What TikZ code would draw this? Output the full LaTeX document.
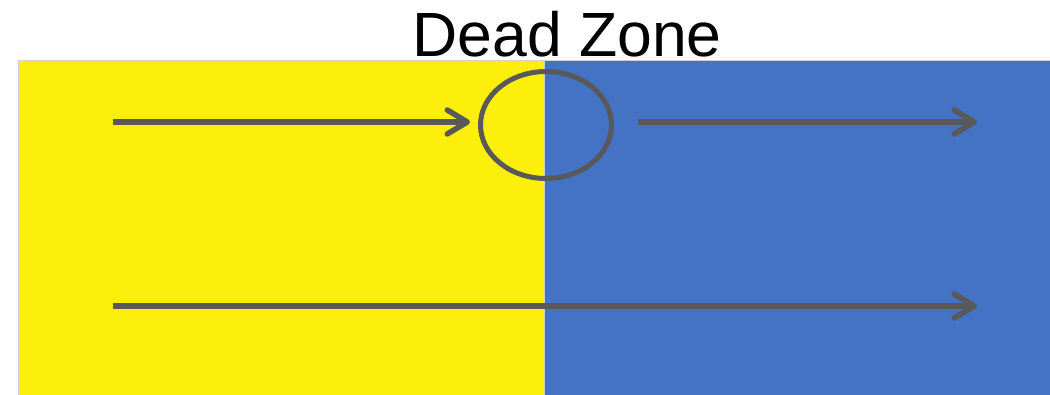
\documentclass[tikz,border=0pt]{standalone}
\usepackage{fontspec}
\setmainfont{Liberation Sans}
\usetikzlibrary{arrows.meta,shapes.geometric}
\definecolor{zoneyellow}{HTML}{FCEF0C}
\definecolor{zoneblue}{HTML}{4472C4}
\definecolor{arrowgray}{HTML}{595959}
\definecolor{framegray}{HTML}{D0D0D0}
\tikzset{
  flow/.style={draw=arrowgray, line width=5.5pt, line cap=butt,
    -{Straight Barb[length=20pt,width=24pt,line cap=round,line join=round]}},
  zone/.style={draw=framegray, line width=1.3pt, inner sep=0pt, anchor=north west},
}
\begin{document}
\begin{tikzpicture}[x=1pt,y=-1pt]
\useasboundingbox (0,0) rectangle (1050,394);
\begin{scope}
\clip (0,0) rectangle (1050,394);
\node[zone, fill=zoneyellow, minimum width=526pt, minimum height=340pt] (yellow) at (18,60) {};
\node[zone, fill=zoneblue, minimum width=520pt, minimum height=340pt] (blue) at (544,60) {};
\end{scope}
\node[anchor=base, font=\fontsize{62.5}{72}\selectfont, inner sep=0pt] (title) at (567,56) {Dead Zone};
\node[ellipse, draw=arrowgray, line width=5pt, minimum width=131pt, minimum height=107pt, inner sep=0pt] (dz) at (546,125) {};
\coordinate (a1s) at (113,122);
\coordinate (a1e) at (470,122);
\coordinate (a2s) at (638,122);
\coordinate (a2e) at (977,122);
\coordinate (b1s) at (113,306);
\coordinate (b1e) at (977,306);
\draw[flow] (a1s) -- (a1e);
\draw[flow] (a2s) -- (a2e);
\draw[flow] (b1s) -- (b1e);
\end{tikzpicture}
\end{document}
